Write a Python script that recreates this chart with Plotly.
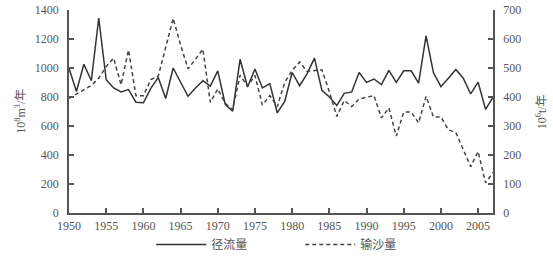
import plotly.graph_objects as go

years = list(range(1950, 2008))
runoff = [998, 838, 1026, 912, 1345, 919, 862, 835, 851, 764,
          760, 860, 935, 790, 1000, 900, 805, 862, 912, 875,
          980, 750, 702, 1060, 869, 993, 862, 892, 690, 770,
          969, 878, 960, 1068, 846, 800, 741, 825, 835, 969,
          901, 924, 885, 983, 901, 981, 981, 896, 1221, 967,
          871, 930, 990, 930, 821, 902, 715, 798]
sediment = [395, 410, 425, 440, 465, 505, 534, 442, 562, 404,
            404, 460, 472, 572, 671, 580, 497, 530, 565, 381,
            428, 378, 357, 475, 437, 474, 372, 405, 367, 450,
            492, 521, 488, 491, 494, 418, 333, 388, 367, 393,
            400, 405, 328, 362, 265, 348, 348, 311, 402, 331,
            331, 287, 278, 222, 160, 212, 104, 140]

name_runoff = "径流量"
name_sed = "输沙量"
left_title = "10<sup>8</sup>m<sup>3</sup>/年"
right_title = "10<sup>6</sup>t/年"

serif = "'Liberation Serif', 'Times New Roman', 'Noto Sans CJK SC', serif"

fig = go.Figure()
fig.add_trace(go.Scatter(x=years, y=runoff, mode="lines", name=name_runoff + "                ",
                         line=dict(color="#333333", width=1.5)))
fig.add_trace(go.Scatter(x=years, y=sediment, mode="lines", name=name_sed, yaxis="y2",
                         line=dict(color="#444444", width=1.5, dash="4px,3px")))

axis_common = dict(showline=True, linecolor="#555555", linewidth=1.5, ticks="inside",
                   ticklen=5, tickcolor="#555555", tickwidth=1.5, showgrid=False,
                   zeroline=False, tickfont=dict(family=serif, size=12, color="#555555"))

fig.update_layout(
    width=553, height=256,
    margin=dict(l=69, r=60, t=10, b=43, autoexpand=False),
    paper_bgcolor="white", plot_bgcolor="white",
    xaxis=dict(range=[1950, 2007], tick0=1950, dtick=5, ticklabelstandoff=1, **axis_common),
    yaxis=dict(range=[0, 1400], dtick=200, ticklabelstandoff=6, **axis_common),
    yaxis2=dict(range=[0, 700], dtick=100, overlaying="y", side="right",
                ticklabelstandoff=6, **axis_common),
    legend=dict(orientation="h", x=0.49, xanchor="center", y=-0.155, yanchor="middle",
                font=dict(family=serif, size=12, color="#555555"), itemwidth=50,
                bgcolor="rgba(0,0,0,0)"),
    annotations=[
        dict(text=left_title, xref="paper", yref="paper", x=-0.115, y=0.5, showarrow=False,
             textangle=-90, xanchor="center", yanchor="middle",
             font=dict(family=serif, size=12, color="#555555")),
        dict(text=right_title, xref="paper", yref="paper", x=1.115, y=0.5, showarrow=False,
             textangle=-90, xanchor="center", yanchor="middle",
             font=dict(family=serif, size=12, color="#555555")),
    ],
)

fig.write_html("out.html")
